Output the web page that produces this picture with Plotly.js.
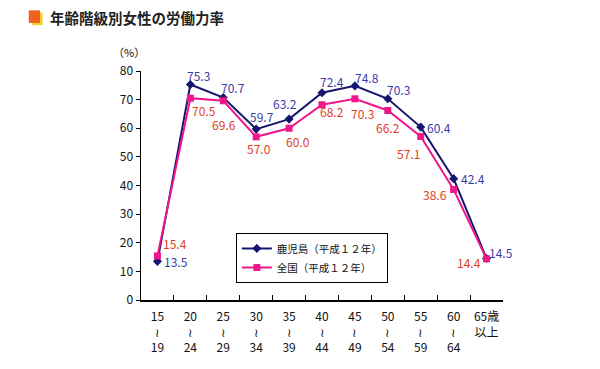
<!DOCTYPE html>
<html><head><meta charset="utf-8">
<script src="https://cdn.plot.ly/plotly-3.0.1.min.js"></script>
<style>html,body{margin:0;padding:0;background:#fff}#c{width:600px;height:369px}</style>
</head><body><div id="c"></div>
<script>
const categories = ["15<br>≀<br>19","20<br>≀<br>24","25<br>≀<br>29","30<br>≀<br>34","35<br>≀<br>39","40<br>≀<br>44","45<br>≀<br>49","50<br>≀<br>54","55<br>≀<br>59","60<br>≀<br>64","65歳<br>以上"];
const kagoshima = [13.5, 75.3, 70.7, 59.7, 63.2, 72.4, 74.8, 70.3, 60.4, 42.4, 14.5];
const zenkoku = [15.4, 70.5, 69.6, 57.0, 60.0, 68.2, 70.3, 66.2, 57.1, 38.6, 14.4];
const kagoshimaName = "鹿児島（平成１２年）";
const zenkokuName = "全国（平成１２年）";
const titleText = "年齢階級別女性の労働力率";

// label offsets in pixels (dx right, dy up)
const kDx = [19, 8, 10, 6, -4, 10, 12, 11, 18, 19, 14];
const kDy = [0, 9, 10, 13, 16, 11, 8, 9, 0, 0, 6];
const zDx = [18, 14, 1, 3, 9, 10, 8, 0, -12, -19, -18];
const zDy = [12, -12, -24, -12, -13, -7, -15, -17, -17, -5, -4];

const font = "Noto Sans CJK JP, sans-serif";
const navy = "#16166e", pink = "#f0168c";
const traces = [
  {x: categories, y: kagoshima, name: kagoshimaName, type: "scatter", mode: "lines+markers",
   line: {color: navy, width: 2}, marker: {symbol: "diamond", size: 7, color: navy}},
  {x: categories, y: zenkoku, name: zenkokuName, type: "scatter", mode: "lines+markers",
   line: {color: pink, width: 2}, marker: {symbol: "square", size: 7, color: pink}}
];
const anns = [];
kagoshima.forEach((v, i) => anns.push({x: categories[i], y: v, xref: "x", yref: "y", text: v.toFixed(1),
  showarrow: false, xshift: kDx[i], yshift: kDy[i], font: {color: "#3a3aa8", size: 12, family: font}}));
zenkoku.forEach((v, i) => anns.push({x: categories[i], y: v, xref: "x", yref: "y", text: v.toFixed(1),
  showarrow: false, xshift: zDx[i], yshift: zDy[i], font: {color: "#e0401e", size: 12, family: font}}));
anns.push({text: "（%）", xref: "paper", yref: "paper", x: -0.033, y: 1.083, xanchor: "center", yanchor: "middle",
  showarrow: false, font: {size: 11}});
anns.push({text: "<b>" + titleText + "</b>", xref: "paper", yref: "paper", x: -0.258, y: 1.235,
  xanchor: "left", yanchor: "middle", showarrow: false, font: {size: 14.5, color: "#222"}});

const layout = {
  width: 600, height: 369,
  margin: {l: 141, r: 97, t: 71, b: 69, autoexpand: false},
  paper_bgcolor: "#fff", plot_bgcolor: "#fff",
  font: {family: font, color: "#111", size: 12},
  showlegend: true,
  legend: {x: 0.262, y: 0.293, xanchor: "left", yanchor: "top", bgcolor: "#fff",
           bordercolor: "#000", borderwidth: 1, font: {size: 10.5, family: font},
           tracegroupgap: 0, itemwidth: 30},
  xaxis: {type: "category", range: [-0.5, 10.5], autorange: false, showline: true, linecolor: "#000", linewidth: 1.5,
          ticks: "inside", ticklen: 5, tickcolor: "#000", tickson: "boundaries", tickangle: 0,
          ticklabelstandoff: 5,
          automargin: false, showgrid: false, zeroline: false, tickfont: {size: 12}, fixedrange: true},
  yaxis: {range: [0, 80], dtick: 10, showline: true, linecolor: "#000", linewidth: 1.5,
          ticks: "outside", ticklen: 4, tickcolor: "#000", showgrid: false, zeroline: false,
          automargin: false, tickfont: {size: 12}, fixedrange: true},
  annotations: anns,
  shapes: [
    {type: "rect", xref: "paper", yref: "paper", x0: -0.3, x1: -0.272, y0: 1.2, y1: 1.255,
     fillcolor: "#f5d020", line: {width: 0}},
    {type: "rect", xref: "paper", yref: "paper", x0: -0.31, x1: -0.279, y0: 1.21, y1: 1.265,
     fillcolor: "#f06020", line: {width: 0}}
  ]
};
Plotly.newPlot("c", traces, layout, {displayModeBar: false, staticPlot: true});
</script></body></html>
